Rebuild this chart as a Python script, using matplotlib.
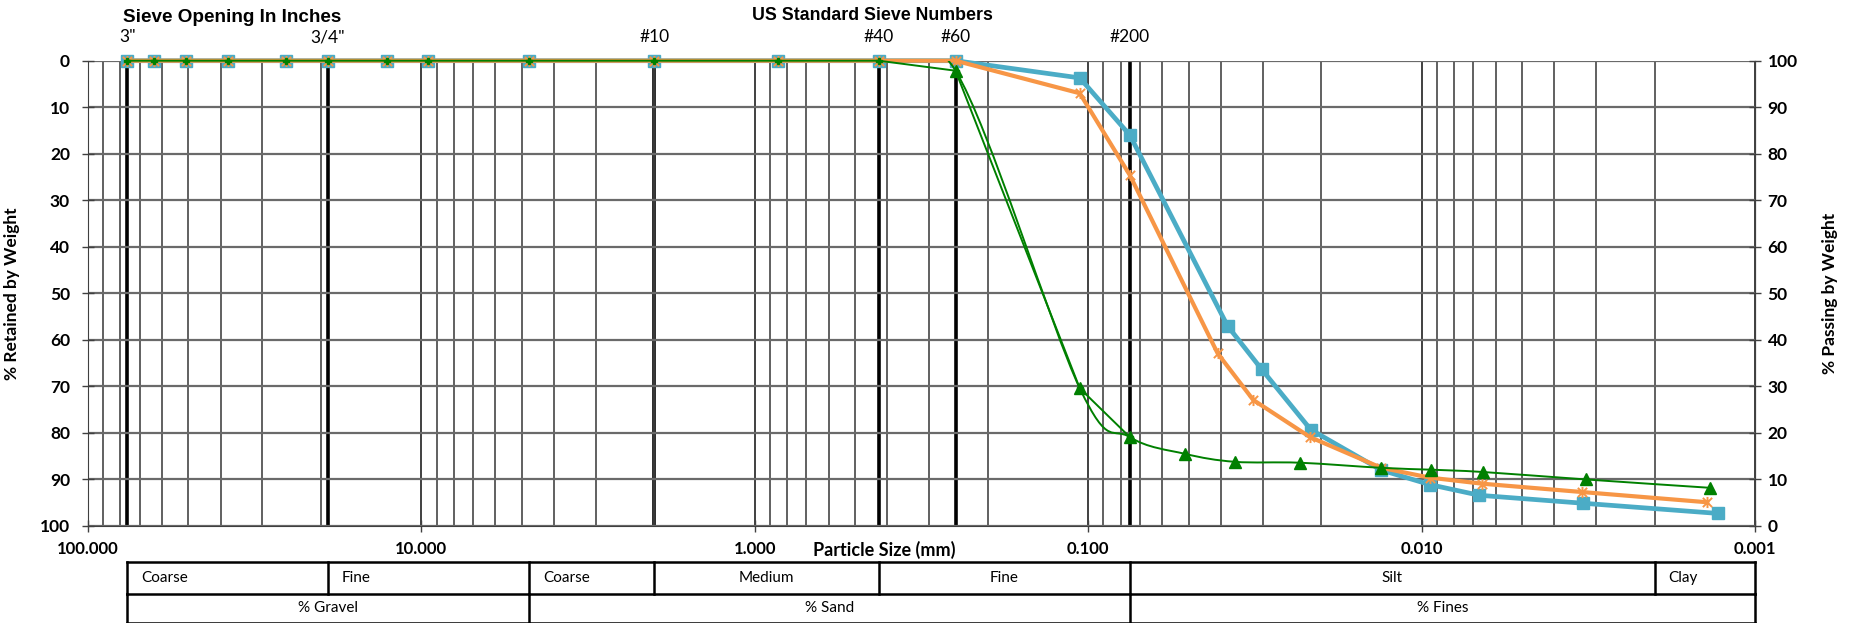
import numpy as np
import matplotlib
matplotlib.use("Agg")
import matplotlib.pyplot as plt
from matplotlib.path import Path
from matplotlib.patches import PathPatch
from matplotlib.lines import Line2D
from matplotlib.transforms import blended_transform_factory
from matplotlib.ticker import LogLocator, FixedLocator, FuncFormatter, NullFormatter

# ---------------- data ----------------
sieve_mm = [76.2, 63.5, 50.8, 38.1, 25.4, 19.05, 12.7, 9.525, 4.75, 2.0, 0.85, 0.425, 0.25, 0.106, 0.075]
blue_sieve_ret = [0, 0, 0, 0, 0, 0, 0, 0, 0, 0, 0, 0, 0, 3.7, 16.0]
orange_sieve_ret = [0, 0, 0, 0, 0, 0, 0, 0, 0, 0, 0, 0, 0, 7.0, 24.6]
green_sieve_ret = [0, 0, 0, 0, 0, 0, 0, 0, 0, 0, 0, 0, 2.15, 70.4, 80.9]

blue_hyd_mm = [0.0382, 0.0302, 0.0215, 0.0132, 0.00945, 0.00671, 0.00329, 0.00129]
blue_hyd_ret = [57.0, 66.3, 79.3, 88.0, 91.1, 93.4, 95.1, 97.3]
orange_hyd_mm = [0.0409, 0.0320, 0.0216, 0.0132, 0.00945, 0.0066, 0.0033, 0.00139]
orange_hyd_ret = [62.9, 72.9, 80.9, 87.5, 89.6, 90.9, 92.7, 94.9]
green_hyd_mm = [0.0512, 0.0364, 0.0232, 0.0132, 0.00935, 0.00653, 0.00321, 0.00136]
green_hyd_ret = [84.5, 86.2, 86.4, 87.5, 87.9, 88.4, 90.0, 91.8]

# green smoothed series (from the #40 sieve on), triangles from #60 on
green_smooth_mm = [0.425, 0.25, 0.106, 0.075] + green_hyd_mm
green_smooth_ret = [0, 2.15, 70.4, 80.9] + green_hyd_ret
green_tri_mm = [0.25, 0.106, 0.075] + green_hyd_mm
green_tri_ret = [2.15, 70.4, 80.9] + green_hyd_ret

sieve_labels = ['3"', '3/4"', '#10', '#40', '#60', '#200']
sieve_label_mm = [76.2, 19.05, 2.0, 0.425, 0.25, 0.075]

x_ticks = [100, 10, 1, 0.1, 0.01, 0.001]
y_ticks = [0, 10, 20, 30, 40, 50, 60, 70, 80, 90, 100]

# soil classification table
row1_bounds = [76.2, 19.05, 4.75, 2.0, 0.425, 0.075, 0.002, 0.001]
row1_labels = ["Coarse", "Fine", "Coarse", "Medium", "Fine", "Silt", "Clay"]
row1_align = ["left", "left", "left", "center", "center", "center", "left"]
row2_bounds = [76.2, 4.75, 0.075, 0.001]
row2_labels = ["% Gravel", "% Sand", "% Fines"]

BLUE = "#4BACC6"
ORANGE = "#F79646"
GREEN = "#008000"

W, H = 1851, 623
FONT = "Lato"
TITLE_FONT = ["Liberation Sans", "DejaVu Sans"]

fig = plt.figure(figsize=(W / 100, H / 100), dpi=100)
L, R, T, B = 88, 1755, 60.7, 526
ax = fig.add_axes([L / W, (H - B) / H, (R - L) / W, (B - T) / H])
ax.set_xscale("log")
ax.set_xlim(100, 0.001)
ax.set_ylim(100, 0)

# grid
ax.xaxis.set_major_locator(FixedLocator(x_ticks))
ax.xaxis.set_minor_locator(LogLocator(base=10, subs=np.arange(2, 10)))
ax.xaxis.set_minor_formatter(NullFormatter())
ax.xaxis.set_major_formatter(FuncFormatter(lambda v, p: f"{v:.3f}"))
ax.yaxis.set_major_locator(FixedLocator(y_ticks))
ax.grid(which="major", axis="x", color="#202020", lw=1.2, zorder=0)
ax.grid(which="minor", axis="x", color="#454545", lw=1.2, zorder=0)
ax.grid(which="major", axis="y", color="#6a6a6a", lw=1.6, zorder=0)
ax.tick_params(axis="x", which="minor", length=0)
ax.tick_params(axis="x", which="major", direction="inout", length=9, width=1, pad=6,
               labelsize=12, colors="#404040", labelcolor="black")
ax.tick_params(axis="y", direction="inout", length=8, width=1, pad=9,
               labelsize=12.5, colors="#404040", labelcolor="black")
for lab in ax.get_xticklabels() + ax.get_yticklabels():
    lab.set_fontfamily(FONT)
    lab.set_fontweight("bold")
for s in ax.spines.values():
    s.set_color("#404040")
ax.spines["top"].set_visible(False)

# thick sieve lines
for d in sieve_label_mm:
    ax.axvline(d, color="black", lw=2.6, zorder=1)

# twin (passing)
ax2 = ax.twinx()
ax2.set_ylim(0, 100)
ax2.yaxis.set_major_locator(FixedLocator(y_ticks))
ax2.tick_params(axis="y", direction="inout", length=8, width=1, pad=5,
                labelsize=12.5, colors="#404040", labelcolor="black")
for lab in ax2.get_yticklabels():
    lab.set_fontfamily(FONT)
    lab.set_fontweight("bold")
for s in ax2.spines.values():
    s.set_visible(False)
ax2.spines["right"].set_visible(True)
ax2.spines["right"].set_color("#404040")

ax.set_ylabel("% Retained by Weight", fontfamily=FONT, fontweight="bold", fontsize=12.5)
ax.yaxis.set_label_coords((20 - L) / (R - L), 0.5)
ax2.set_ylabel("% Passing by Weight", fontfamily=FONT, fontweight="bold", fontsize=12.5)
ax2.yaxis.set_label_coords((1822 - L) / (R - L), 0.5)

# ---------------- series ----------------
blue_x = sieve_mm + blue_hyd_mm
blue_y = blue_sieve_ret + blue_hyd_ret
orange_x = sieve_mm + orange_hyd_mm
orange_y = orange_sieve_ret + orange_hyd_ret

ax.plot(blue_x, blue_y, color=BLUE, lw=3.4, marker="s", ms=8, mfc=BLUE, mec=BLUE,
        zorder=5, solid_joinstyle="round", clip_on=False)

star = Path([(-1, -1), (1, 1), (-1, 1), (1, -1), (0, -1.2), (0, 1.2)],
            [Path.MOVETO, Path.LINETO, Path.MOVETO, Path.LINETO, Path.MOVETO, Path.LINETO])
ax.plot(orange_x, orange_y, color=ORANGE, lw=3.0, zorder=6, solid_joinstyle="round",
        clip_on=False)
ax.plot(orange_x, orange_y, ls="none", marker=star, ms=8, mfc="none", mec=ORANGE,
        mew=1.4, zorder=6, clip_on=False)

# green straight (sieve) series
ax.plot(sieve_mm, green_sieve_ret, color=GREEN, lw=1.4, marker="P", ms=4.5,
        mfc=GREEN, mec=GREEN, zorder=7, clip_on=False)


# green smoothed series (Excel style smoothing, bezier through the points)
def smooth_path(xs, ys):
    u = np.log10(np.asarray(xs, float))
    v = np.asarray(ys, float)
    P = np.column_stack([u, v])
    n = len(P)
    verts = [P[0]]
    codes = [Path.MOVETO]
    for i in range(n - 1):
        p0 = P[i - 1] if i > 0 else P[i]
        p1 = P[i]
        p2 = P[i + 1]
        p3 = P[i + 2] if i + 2 < n else P[i + 1]
        c1 = p1 + (p2 - p0) / 6.0
        c2 = p2 - (p3 - p1) / 6.0
        verts += [c1, c2, p2]
        codes += [Path.CURVE4] * 3
    verts = np.array(verts)
    verts[:, 0] = 10 ** verts[:, 0]
    return Path(verts, codes)


ax.add_patch(PathPatch(smooth_path(green_smooth_mm, green_smooth_ret), fill=False,
                       edgecolor=GREEN, lw=1.4, zorder=7))
ax.plot(green_tri_mm, green_tri_ret, ls="none", marker="^", ms=8.5,
        mfc=GREEN, mec=GREEN, zorder=8, clip_on=False)

# ---------------- top labels ----------------
def fy(py):
    return (H - py) / H


bt = blended_transform_factory(ax.transData, fig.transFigure)
for lab, d in zip(sieve_labels, sieve_label_mm):
    fig.text(d, fy(37.5), lab, transform=bt, ha="center", va="center",
             fontfamily=FONT, fontsize=12.5)

fig.text(232 / W, fy(18), "Sieve Opening In Inches", ha="center", va="center",
         fontfamily=TITLE_FONT, fontweight="bold", fontsize=13.6)
fig.text(872 / W, fy(15), "US Standard Sieve Numbers", ha="center", va="center",
         fontfamily=TITLE_FONT, fontweight="bold", fontsize=12.8)
fig.text(884 / W, fy(550), "Particle Size (mm)", ha="center", va="center",
         fontfamily=FONT, fontweight="bold", fontsize=13)

# ---------------- classification table ----------------
y_top, y_mid, y_bot = fy(562), fy(593.5), fy(622.5)
lw_t = 1.8
for yy in (y_top, y_mid, y_bot):
    fig.add_artist(Line2D([row1_bounds[0], row1_bounds[-1]], [yy, yy], transform=bt,
                          color="black", lw=lw_t))
for d in row1_bounds:
    fig.add_artist(Line2D([d, d], [y_top, y_mid], transform=bt, color="black", lw=lw_t))
for d in row2_bounds:
    fig.add_artist(Line2D([d, d], [y_mid, y_bot], transform=bt, color="black", lw=lw_t))

pad_px = 14
for i, lab in enumerate(row1_labels):
    a, b = row1_bounds[i], row1_bounds[i + 1]
    yc = (y_top + y_mid) / 2
    if row1_align[i] == "left":
        xa = ax.transData.transform((a, 0))[0] + pad_px
        fig.text(xa / W, yc, lab, ha="left", va="center", fontfamily=FONT, fontsize=11)
    else:
        xm = 10 ** ((np.log10(a) + np.log10(b)) / 2)
        fig.text(xm, yc, lab, transform=bt, ha="center", va="center",
                 fontfamily=FONT, fontsize=11)
for i, lab in enumerate(row2_labels):
    a, b = row2_bounds[i], row2_bounds[i + 1]
    xm = 10 ** ((np.log10(a) + np.log10(b)) / 2)
    fig.text(xm, (y_mid + y_bot) / 2, lab, transform=bt, ha="center", va="center",
             fontfamily=FONT, fontsize=11)

fig.savefig("out.png", dpi=100)
